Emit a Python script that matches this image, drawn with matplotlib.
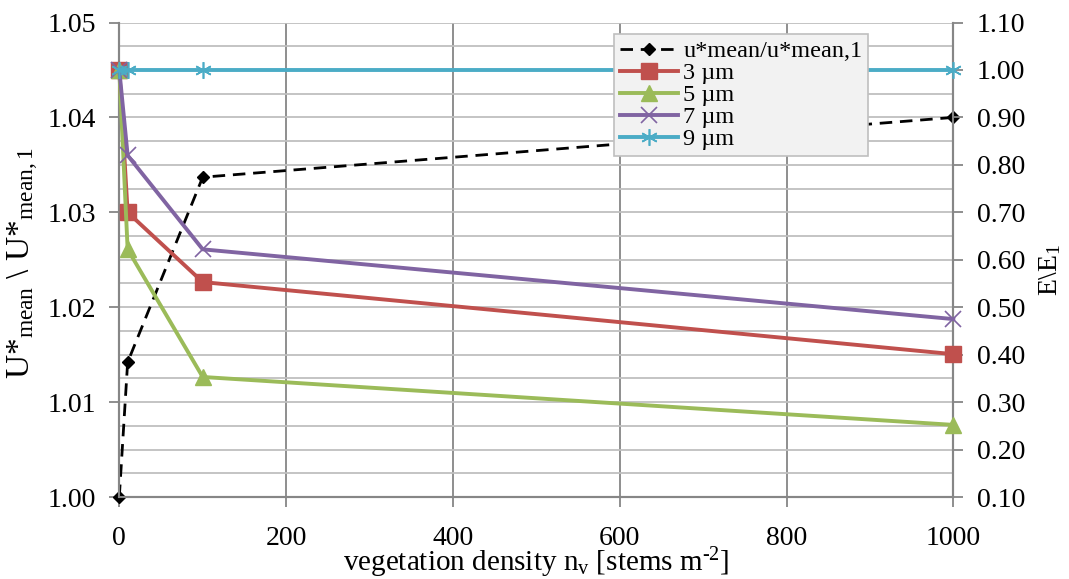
import matplotlib
matplotlib.use("Agg")
import matplotlib.pyplot as plt
from matplotlib.ticker import MultipleLocator, FormatStrFormatter

# ===== DATA =====
density = [0, 10, 100, 1000]          # stems m-2
u_ratio = [1.000, 1.0142, 1.0337, 1.0400]  # u*mean / u*mean,1 (left axis)

e_ratio = {
    "3 µm": [1.00, 0.70, 0.553, 0.401],
    "5 µm": [1.00, 0.622, 0.353, 0.252],
    "7 µm": [1.00, 0.820, 0.622, 0.475],
    "9 µm": [1.00, 1.00, 1.00, 1.00],
}

# ===== STYLE =====
plt.rcParams["font.family"] = ["Liberation Serif", "DejaVu Serif"]
plt.rcParams["mathtext.fontset"] = "custom"
plt.rcParams["mathtext.rm"] = "Liberation Serif"
plt.rcParams["mathtext.it"] = "Liberation Serif:italic"

colors = {"3 µm": "#C0504D", "5 µm": "#9BBB59", "7 µm": "#8064A2", "9 µm": "#4BACC6"}
markers = {"3 µm": "s", "5 µm": "^", "7 µm": "x", "9 µm": (6, 2, 0)}
msizes = {"3 µm": 11, "5 µm": 11, "7 µm": 11, "9 µm": 12}

axis_gray = "#868686"
grid_major = "#868686"
grid_minor = "#bfbfbf"

fig = plt.figure(figsize=(10.69, 5.79), dpi=100)
ax = fig.add_axes([0.1116, 0.1416, 0.7802, 0.8195])
ax2 = ax.twinx()

# left axis: friction velocity ratio
ax.plot(density, u_ratio, color="black", ls=(0, (4.5, 2.8)), lw=2.0,
        marker="D", ms=6, label="u*mean/u*mean,1", clip_on=False, zorder=3)

# right axis: E / E1 for each particle size
for name, vals in e_ratio.items():
    ax2.plot(density, vals, color=colors[name], lw=2.8, marker=markers[name],
             ms=msizes[name], mew=1.2 if name in ("7 µm", "9 µm") else 1,
             label=name, clip_on=False, zorder=4)

ax.set_xlim(0, 1000)
ax.set_ylim(1.00, 1.05)
ax2.set_ylim(0.10, 1.10)

ax.xaxis.set_major_locator(MultipleLocator(200))
ax.yaxis.set_major_locator(MultipleLocator(0.01))
ax.yaxis.set_minor_locator(MultipleLocator(0.0025))
ax.yaxis.set_major_formatter(FormatStrFormatter("%.2f"))
ax2.yaxis.set_major_locator(MultipleLocator(0.10))
ax2.yaxis.set_major_formatter(FormatStrFormatter("%.2f"))

# gridlines
ax.set_axisbelow(True)
ax.grid(axis="x", color=grid_major, lw=1.3)
ax.grid(axis="y", which="both", color=grid_minor, lw=1.3)

ax.spines["top"].set_visible(False)
ax2.spines["top"].set_visible(False)
for s in ("left", "bottom", "right"):
    ax.spines[s].set_color(axis_gray)
    ax.spines[s].set_linewidth(1.5)
    ax2.spines[s].set_color(axis_gray)
    ax2.spines[s].set_linewidth(1.5)

ax.tick_params(axis="both", which="major", labelsize=20, color=axis_gray,
               width=1.3, length=7)
ax.tick_params(axis="y", which="major", pad=10)
ax.tick_params(axis="x", which="major", pad=14)
ax.tick_params(axis="y", which="minor", length=0)
ax2.tick_params(axis="y", labelsize=20, color=axis_gray, width=1.3,
                length=7, pad=10)

# axis titles
fig.text(0.502, 0.028, "vegetation density n$_\\mathrm{v}$ [stems m$^{\\mathrm{\u20102}}$]",
         ha="center", va="center", fontsize=21)
fig.text(0.022, 0.545, r"U*$_\mathrm{mean}$ \ U*$_\mathrm{mean,1}$",
         ha="center", va="center", rotation=90, fontsize=24)
fig.text(0.982, 0.535, r"E\E$_1$", ha="center", va="center",
         rotation=90, fontsize=20)

# combined legend
h1, l1 = ax.get_legend_handles_labels()
h2, l2 = ax2.get_legend_handles_labels()
leg = ax2.legend(h1 + h2, l1 + l2, loc="upper left",
                 bbox_to_anchor=(614 / 1069, 1 - 34 / 579),
                 bbox_transform=fig.transFigure, fontsize=17.5,
                 fancybox=False, framealpha=1, facecolor="#f2f2f2",
                 edgecolor="#bfbfbf", handlelength=2.4, handletextpad=0.2,
                 labelspacing=0.0, borderpad=0.25, borderaxespad=0)
leg.get_frame().set_linewidth(1.2)
leg.set_zorder(10)

fig.savefig("out.png", dpi=100)
